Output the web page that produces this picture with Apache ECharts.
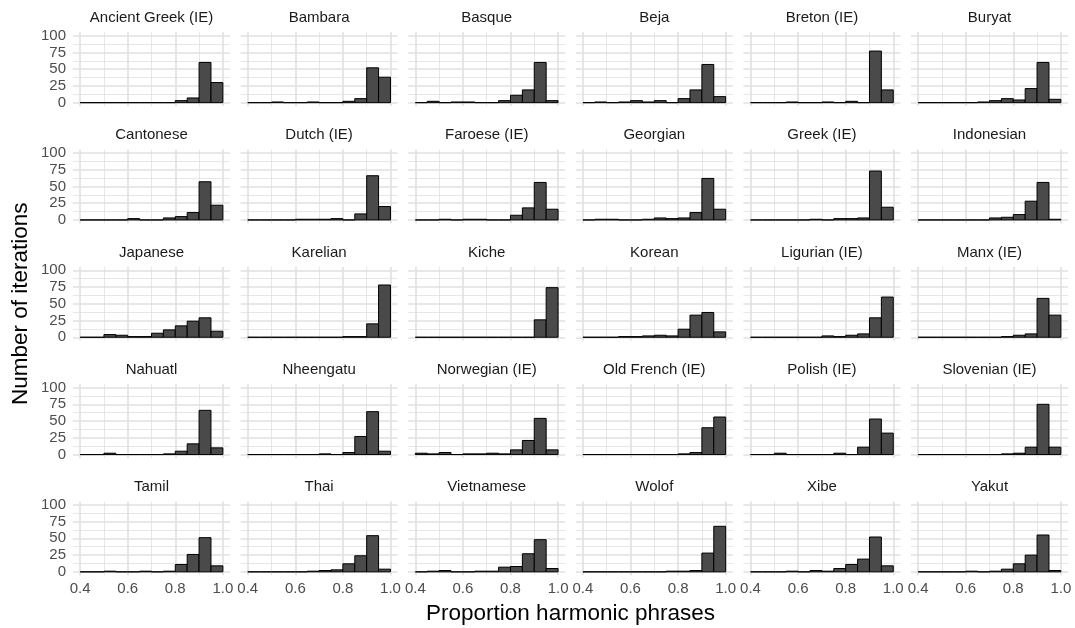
<!DOCTYPE html>
<html><head><meta charset="utf-8">
<script src="https://cdn.jsdelivr.net/npm/echarts@6/dist/echarts.min.js"></script>
<style>html,body{margin:0;padding:0;background:#fff}#c{width:1075px;height:628px}</style>
</head><body><div id="c"></div>
<script>
// ---- data ----
const languages = ["Ancient Greek (IE)","Bambara","Basque","Beja","Breton (IE)","Buryat",
  "Cantonese","Dutch (IE)","Faroese (IE)","Georgian","Greek (IE)","Indonesian",
  "Japanese","Karelian","Kiche","Korean","Ligurian (IE)","Manx (IE)",
  "Nahuatl","Nheengatu","Norwegian (IE)","Old French (IE)","Polish (IE)","Slovenian (IE)",
  "Tamil","Thai","Vietnamese","Wolof","Xibe","Yakut"];
const binStarts = [0.40,0.45,0.50,0.55,0.60,0.65,0.70,0.75,0.80,0.85,0.90,0.95];
const binWidth = 0.05;
const xMajorTicks = [0.4,0.6,0.8,1.0];
const xMinorTicks = [0.5,0.7,0.9];
const yMajorTicks = [0,25,50,75,100];
const yMinorTicks = [12.5,37.5,62.5,87.5];

const ancientGreek = [0,0,0,0,0,0,0,0,3,7,60,30];
const bambara      = [0,0,1,0,0,1,0,0,2,6,52,38];
const basque       = [0,2,0,1,1,0,0,3,11,19,60,3];
const beja         = [0,1,0,1,3,1,3,0,6,19,57,9];
const breton       = [0,0,0,1,0,0,1,0,2,0,77,19];
const buryat       = [0,0,0,0,0,1,3,6,4,21,60,5];
const cantonese    = [0,0,0,0,2,0,0,3,5,11,57,22];
const dutch        = [0,0,0,0,1,1,1,2,0,9,66,20];
const faroese      = [0,0,1,0,1,1,0,0,7,18,56,16];
const georgian     = [0,1,1,0,0,1,3,2,3,11,62,16];
const greek        = [0,0,0,0,0,1,0,2,2,3,73,19];
const indonesian   = [0,0,0,0,0,0,3,4,8,28,56,1];
const japanese     = [0,0,4,3,1,1,6,11,17,24,29,9];
const karelian     = [0,0,0,0,0,0,0,0,1,1,20,78];
const kiche        = [0,0,0,0,0,0,0,0,0,0,26,74];
const korean       = [0,0,0,1,1,2,3,2,12,33,37,8];
const ligurian     = [0,0,0,0,0,0,2,1,3,5,29,60];
const manx         = [0,0,0,0,0,0,0,1,3,5,58,33];
const nahuatl      = [0,0,2,0,0,0,0,1,5,16,66,10];
const nheengatu    = [0,0,0,0,0,0,1,0,3,27,64,5];
const norwegian    = [2,1,3,0,1,1,2,1,7,21,54,7];
const oldFrench    = [0,0,0,0,0,0,0,0,1,3,40,56];
const polish       = [0,0,2,0,0,0,0,2,0,11,53,32];
const slovenian    = [0,0,0,0,0,0,0,1,2,11,75,11];
const tamil        = [0,0,1,0,0,1,0,1,11,26,51,9];
const thai         = [0,0,0,0,0,1,2,3,12,24,54,4];
const vietnamese   = [0,1,2,0,0,1,1,7,8,27,48,5];
const wolof        = [0,0,0,0,0,0,0,1,1,2,28,68];
const xibe         = [0,0,0,1,0,2,1,5,11,19,52,9];
const yakut        = [0,0,0,0,1,0,1,4,12,25,55,2];

const seriesValues = [ancientGreek,bambara,basque,beja,breton,buryat,
  cantonese,dutch,faroese,georgian,greek,indonesian,
  japanese,karelian,kiche,korean,ligurian,manx,
  nahuatl,nheengatu,norwegian,oldFrench,polish,slovenian,
  tamil,thai,vietnamese,wolof,xibe,yakut];

// ---- layout ----
const FONT = '"Liberation Sans", Arial, sans-serif';
const nCols = 6, nRows = 5;
const colLeft0 = 73, colStep = 167.6, panelW = 157;
const rowTop0 = 32.3, rowStep = 117.3, panelH = 73.7;
const majorLine = {color:'#e0e0e0', width:1.6};
const minorLine = {color:'#dcdcdc', width:0.7};

const grids = [], xAxes = [], yAxes = [], series = [], graphics = [];
languages.forEach((lang, i) => {
  const r = Math.floor(i / nCols), c = i % nCols;
  const left = colLeft0 + c * colStep, top = rowTop0 + r * rowStep;
  grids.push({left, top, width: panelW, height: panelH, containLabel:false, outerBoundsMode:'none'});
  const xBase = {type:'value', gridIndex:i, min:0.37, max:1.03, axisLine:{show:false}};
  xAxes.push(Object.assign({}, xBase, {
    axisTick:{show:false, customValues:xMajorTicks},
    axisLabel:{show: r === nRows-1, customValues:xMajorTicks, formatter:v=>v.toFixed(1),
      color:'#4d4d4d', fontSize:15, fontFamily:FONT, margin:6},
    splitLine:{show:true, lineStyle:majorLine}
  }));
  xAxes.push(Object.assign({}, xBase, {
    axisTick:{show:false, customValues:xMinorTicks},
    axisLabel:{show:false, customValues:xMinorTicks},
    splitLine:{show:true, lineStyle:minorLine}
  }));
  const yBase = {type:'value', gridIndex:i, min:-5, max:105, axisLine:{show:false}};
  yAxes.push(Object.assign({}, yBase, {
    axisTick:{show:false, customValues:yMajorTicks},
    axisLabel:{show: c === 0, customValues:yMajorTicks, color:'#4d4d4d', fontSize:15, fontFamily:FONT, margin:7},
    splitLine:{show:true, lineStyle:majorLine}
  }));
  yAxes.push(Object.assign({}, yBase, {
    axisTick:{show:false, customValues:yMinorTicks},
    axisLabel:{show:false, customValues:yMinorTicks},
    splitLine:{show:true, lineStyle:minorLine}
  }));
  series.push({
    type:'custom', xAxisIndex:2*i, yAxisIndex:2*i, silent:true, clip:false,
    data: binStarts.map((s,k) => [s, s + binWidth, seriesValues[i][k]]),
    encode:{x:[0,1], y:2},
    renderItem(params, api) {
      const p0 = api.coord([api.value(0), 0]);
      const p1 = api.coord([api.value(1), api.value(2)]);
      return {type:'rect', shape:{x:p0[0], y:p1[1], width:p1[0]-p0[0], height:p0[1]-p1[1]},
        style:{fill:'#4a4a4a', stroke:'#000', lineWidth:1}};
    }
  });
  graphics.push({type:'text', x:left + panelW/2, y:top - 14.5,
    style:{text:lang, align:'center', verticalAlign:'middle', fontSize:15, fontFamily:FONT, fill:'#1a1a1a'}});
});
graphics.push({type:'text', x:colLeft0 + ((nCols-1)*colStep + panelW)/2, y:614,
  style:{text:'Proportion harmonic phrases', align:'center', verticalAlign:'middle', fontSize:22.5, fontFamily:FONT, fill:'#000'}});
graphics.push({type:'text', x:21, y:rowTop0 + ((nRows-1)*rowStep + panelH)/2, rotation:Math.PI/2,
  style:{text:'Number of iterations', align:'center', verticalAlign:'middle', fontSize:22.5, fontFamily:FONT, fill:'#000'}});

const chart = echarts.init(document.getElementById('c'), null, {renderer:'canvas'});
chart.setOption({
  animation:false, backgroundColor:'#fff',
  grid:grids, xAxis:xAxes, yAxis:yAxes, series, graphic:graphics
});
</script></body></html>
